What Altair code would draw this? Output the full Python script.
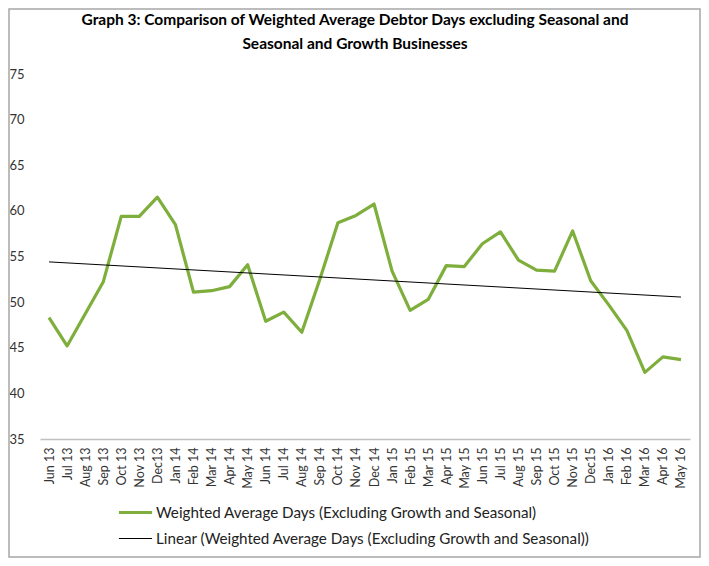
import altair as alt
import pandas as pd

months = ["Jun 13", "Jul 13", "Aug 13", "Sep 13", "Oct 13", "Nov 13", "Dec13", "Jan 14",
          "Feb 14", "Mar 14", "Apr 14", "May 14", "Jun 14", "Jul 14", "Aug 14", "Sep 14",
          "Oct 14", "Nov 14", "Dec 14", "Jan 15", "Feb 15", "Mar 15", "Apr 15", "May 15",
          "Jun 15", "Jul 15", "Aug 15", "Sep 15", "Oct 15", "Nov 15", "Dec15", "Jan 16",
          "Feb 16", "Mar 16", "Apr 16", "May 16"]
values = [48.3, 45.2, 48.7, 52.2, 59.4, 59.4, 61.5, 58.5,
          51.1, 51.25, 51.7, 54.1, 47.9, 48.9, 46.7, 52.5,
          58.7, 59.5, 60.75, 53.4, 49.1, 50.3, 54.0, 53.9,
          56.4, 57.7, 54.6, 53.5, 53.4, 57.8, 52.35, 49.7,
          46.9, 42.3, 44.0, 43.7]
y_ticks = [35, 40, 45, 50, 55, 60, 65, 70, 75]

SERIES = "Weighted Average Days (Excluding Growth and Seasonal)"
TREND = "Linear (Weighted Average Days (Excluding Growth and Seasonal))"
title_lines = ["Graph 3: Comparison  of Weighted Average Debtor Days excluding Seasonal and",
               "Seasonal and Growth Businesses"]

df = pd.DataFrame({"idx": list(range(len(months))), "month": months, "value": values})

FONT = "Lato"
GREEN = "#7eae3b"
label_expr = "[" + ",".join("'%s'" % m for m in months) + "][datum.value]"


def make_legend():
    return alt.Legend(title=None, orient="none", legendX=77, legendY=420,
                      direction="vertical", symbolType="stroke",
                      symbolSize=1100, labelFont=FONT, labelFontSize=15.2,
                      labelColor="#222222", labelLimit=700,
                      rowPadding=-2, labelOffset=2)


x_enc = alt.X("idx:Q",
              scale=alt.Scale(domain=[-0.5, len(months) - 0.5], nice=False, zero=False),
              axis=alt.Axis(values=list(range(len(months))), labelExpr=label_expr,
                            labelAngle=-90, labelPadding=8, ticks=False, grid=False,
                            domainColor="#c0c0c0", domainWidth=1.5, title=None,
                            labelFont=FONT, labelFontSize=12.5, labelColor="#333333"))
y_enc = alt.Y("value:Q",
              scale=alt.Scale(domain=[35, 75], nice=False, zero=False),
              axis=alt.Axis(values=y_ticks, ticks=False, grid=False, domain=False,
                            labelPadding=16, title=None, labelFont=FONT,
                            labelFontSize=13, labelColor="#333333"))
color_enc = alt.Color("series:N",
                      scale=alt.Scale(domain=[SERIES, TREND], range=[GREEN, "#000000"]),
                      legend=make_legend())
sw_enc = alt.StrokeWidth("series:N",
                         scale=alt.Scale(domain=[SERIES, TREND], range=[3.2, 1]),
                         legend=make_legend())

main = alt.Chart(df).transform_calculate(series="'%s'" % SERIES).mark_line(
    strokeJoin="round").encode(x=x_enc, y=y_enc, color=color_enc, strokeWidth=sw_enc)

trend = alt.Chart(df).transform_regression("idx", "value").transform_calculate(
    series="'%s'" % TREND).mark_line().encode(x=x_enc, y=y_enc, color=color_enc,
                                             strokeWidth=sw_enc)

frame = alt.Chart(pd.DataFrame({"f": [0]})).mark_rect(
    fill=None, stroke="#a6a6a6", strokeWidth=1.5).encode(
    x=alt.value(-31), x2=alt.value(660), y=alt.value(-65), y2=alt.value(483))

chart = alt.layer(frame, main, trend).properties(
    width=650, height=365,
    autosize=alt.AutoSizeParams(type="none"),
    padding={"left": 32, "top": 66, "right": 11, "bottom": 119},
    title=alt.TitleParams(text=title_lines, anchor="middle", dx=-10, fontSize=15.5,
                          font=FONT, fontWeight="bold", color="#000000",
                          lineHeight=24, offset=-44),
).configure_view(stroke=None)

chart.save("out.html", embed_options={"renderer": "svg", "actions": False})
